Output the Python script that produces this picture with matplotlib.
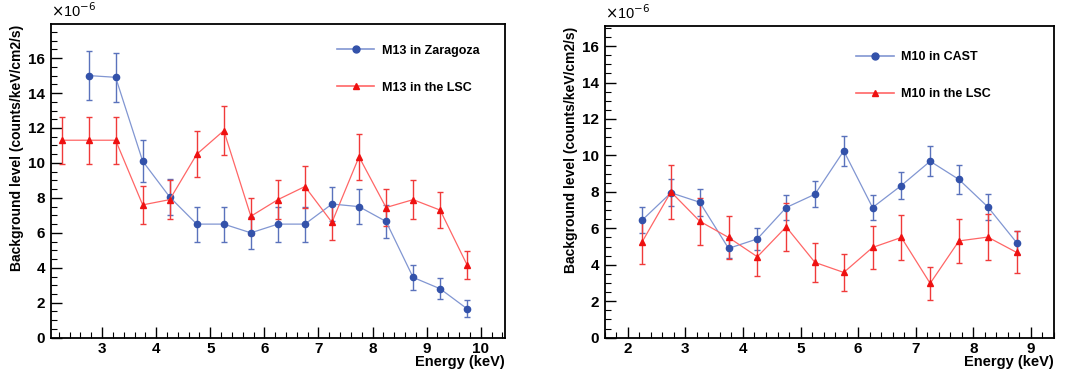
import numpy as np
import matplotlib
matplotlib.use("Agg")
import matplotlib.pyplot as plt
from matplotlib.ticker import MultipleLocator
from matplotlib.lines import Line2D

plt.rcParams['font.family'] = ['Liberation Sans', 'DejaVu Sans']

# left panel: M13
x_zar = [2.75, 3.25, 3.75, 4.25, 4.75, 5.25, 5.75, 6.25, 6.75, 7.25, 7.75, 8.25, 8.75, 9.25, 9.75]
y_zar = [15.0, 14.9, 10.1, 8.05, 6.5, 6.5, 6.0, 6.5, 6.5, 7.65, 7.5, 6.65, 3.45, 2.8, 1.65]
e_zar = [1.4, 1.4, 1.2, 1.05, 1.0, 1.0, 0.9, 1.0, 1.0, 1.0, 1.0, 0.95, 0.7, 0.6, 0.48]

x_lsc13 = [2.25, 2.75, 3.25, 3.75, 4.25, 4.75, 5.25, 5.75, 6.25, 6.75, 7.25, 7.75, 8.25, 8.75, 9.25, 9.75]
y_lsc13 = [11.3, 11.3, 11.3, 7.6, 7.9, 10.5, 11.85, 6.95, 7.9, 8.65, 6.6, 10.35, 7.45, 7.9, 7.3, 4.15]
e_lsc13 = [1.35, 1.35, 1.35, 1.1, 1.1, 1.3, 1.4, 1.05, 1.1, 1.2, 1.0, 1.3, 1.05, 1.1, 1.05, 0.8]

# right panel: M10
x_cast = [2.25, 2.75, 3.25, 3.75, 4.25, 4.75, 5.25, 5.75, 6.25, 6.75, 7.25, 7.75, 8.25, 8.75]
y_cast = [6.45, 7.95, 7.43, 4.9, 5.42, 7.14, 7.87, 10.25, 7.14, 8.35, 9.68, 8.68, 7.18, 5.22]
e_cast = [0.7, 0.75, 0.75, 0.55, 0.62, 0.7, 0.72, 0.83, 0.7, 0.76, 0.82, 0.78, 0.72, 0.63]

x_lsc10 = [2.25, 2.75, 3.25, 3.75, 4.25, 4.75, 5.25, 5.75, 6.25, 6.75, 7.25, 7.75, 8.25, 8.75]
y_lsc10 = [5.26, 8.0, 6.39, 5.5, 4.44, 6.08, 4.13, 3.58, 4.95, 5.5, 2.98, 5.31, 5.52, 4.68]
e_lsc10 = [1.2, 1.5, 1.3, 1.2, 1.05, 1.3, 1.05, 1.0, 1.2, 1.25, 0.92, 1.2, 1.25, 1.15]

blue_m, blue_l, blue_e = '#3352aa', '#8196d2', '#5a72bc'
red_m, red_l, red_e = '#ee1111', '#ff6666', '#f03a3a'

fig = plt.figure(figsize=(10.68, 3.70), dpi=100)
ax1 = fig.add_axes([0.0475, 0.0873, 0.4254, 0.8478])
ax2 = fig.add_axes([0.5662, 0.0873, 0.4207, 0.8424])


def draw(ax, xb, yb, eb, lb, xr, yr, er, lr, xlim, ylim, leg_x, leg_y, ylab_x):
    ax.errorbar(xb, yb, yerr=eb, color=blue_l, ecolor=blue_e, marker='o', ms=4.5,
                mfc=blue_m, mec=blue_m, lw=0.9, elinewidth=1.0, capsize=2.5, zorder=3)
    ax.errorbar(xr, yr, yerr=er, color=red_l, ecolor=red_e, marker='^', ms=4.5,
                mfc=red_m, mec=red_m, lw=0.9, elinewidth=1.0, capsize=2.5, zorder=3)
    ax.set_xlim(*xlim)
    ax.set_ylim(*ylim)
    ax.xaxis.set_major_locator(MultipleLocator(1))
    ax.xaxis.set_minor_locator(MultipleLocator(0.2))
    ax.yaxis.set_major_locator(MultipleLocator(2))
    ax.yaxis.set_minor_locator(MultipleLocator(0.5))
    ax.tick_params(which='both', direction='in', top=False, right=False)
    ax.tick_params(which='major', length=8, width=1.0, labelsize=11)
    ax.tick_params(axis='x', which='major', pad=3)
    ax.tick_params(axis='y', which='major', pad=4)
    ax.tick_params(which='minor', length=4, width=0.8)
    for lab in ax.get_xticklabels() + ax.get_yticklabels():
        lab.set_fontweight('bold')
    for s in ax.spines.values():
        s.set_linewidth(1.3)
    xl = ax.set_xlabel('Energy (keV)', fontsize=10.5, fontweight='bold', ha='right', va='center')
    ax.xaxis.set_label_coords(1.0, -0.077)
    ax.set_ylabel('Background level (counts/keV/cm2/s)', fontsize=10,
                  fontweight='bold', ha='right', va='center')
    ax.yaxis.set_label_coords(ylab_x, 0.997)
    ax.text(0.0, 1.012, r'$\times$10$^{-6}$', transform=ax.transAxes, fontsize=10.5, va='bottom')
    handles = [Line2D([], [], color=blue_l, lw=1.2, marker='o', ms=5, mfc=blue_m, mec=blue_m),
               Line2D([], [], color=red_l, lw=1.2, marker='^', ms=5, mfc=red_m, mec=red_m)]
    ax.legend(handles, [lb, lr], loc='upper left', bbox_to_anchor=(leg_x, leg_y), frameon=False,
              labelspacing=2.0, handlelength=3.0, handletextpad=0.6,
              prop={'weight': 'bold', 'size': 9})


draw(ax1, x_zar, y_zar, e_zar, 'M13 in Zaragoza', x_lsc13, y_lsc13, e_lsc13, 'M13 in the LSC',
     (2.05, 10.45), (0, 17.95), 0.605, 0.97, -0.074)
draw(ax2, x_cast, y_cast, e_cast, 'M10 in CAST', x_lsc10, y_lsc10, e_lsc10, 'M10 in the LSC',
     (1.6, 9.4), (0, 17.1), 0.535, 0.955, -0.076)

fig.savefig('out.png', dpi=100)
